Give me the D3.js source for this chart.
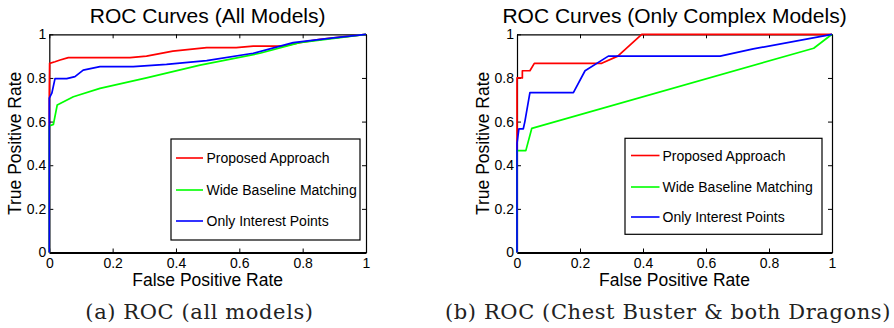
<!DOCTYPE html>
<html>
<head>
<meta charset="utf-8">
<script src="https://cdn.jsdelivr.net/npm/d3@7"></script>
<style>
  html, body { margin: 0; padding: 0; background: #fff; }
  svg { display: block; }
</style>
</head>
<body>
<svg id="chart" width="894" height="328"></svg>
<script>
// ---------- data ----------
const tickValues = [0, 0.2, 0.4, 0.6, 0.8, 1];
const tickLabels = ["0", "0.2", "0.4", "0.6", "0.8", "1"];
const seriesNames = ["Proposed Approach", "Wide Baseline Matching", "Only Interest Points"];
const seriesColors = ["#ff0000", "#00ff00", "#0000ff"];
const panelTitles = ["ROC Curves (All Models)", "ROC Curves (Only Complex Models)"];
const panelCaptions = ["(a) ROC (all models)", "(b) ROC (Chest Buster & both Dragons)"];
const xLabel = "False Positive Rate";
const yLabel = "True Positive Rate";

// Panel (a): all models
const allProposedFPR = [0, 0, 0.001, 0.018, 0.034, 0.06, 0.255, 0.307, 0.39, 0.497, 0.59, 0.644, 0.739, 0.79, 0.855, 1];
const allProposedTPR = [0, 0.73, 0.867, 0.874, 0.882, 0.893, 0.893, 0.90, 0.923, 0.939, 0.939, 0.946, 0.946, 0.962, 0.977, 1];
const allWideFPR = [0, 0, 0.013, 0.025, 0.076, 0.16, 0.307, 0.476, 0.665, 0.79, 1];
const allWideTPR = [0, 0.58, 0.587, 0.676, 0.714, 0.752, 0.80, 0.859, 0.913, 0.962, 1];
const allInterestFPR = [0, 0, 0.008, 0.018, 0.055, 0.081, 0.107, 0.16, 0.265, 0.37, 0.497, 0.644, 0.77, 0.897, 1];
const allInterestTPR = [0, 0.707, 0.73, 0.797, 0.797, 0.806, 0.836, 0.852, 0.852, 0.862, 0.879, 0.913, 0.962, 0.984, 1];

// Panel (b): only complex models
const cxProposedFPR = [0, 0, 0.017, 0.017, 0.041, 0.055, 0.269, 0.32, 0.396, 1];
const cxProposedTPR = [0, 0.8, 0.8, 0.833, 0.833, 0.867, 0.867, 0.9, 1, 1];
const cxWideFPR = [0, 0, 0.028, 0.047, 0.942, 1];
const cxWideTPR = [0, 0.467, 0.467, 0.569, 0.936, 1];
const cxInterestFPR = [0, 0, 0.006, 0.02, 0.025, 0.041, 0.179, 0.216, 0.29, 0.645, 0.75, 1];
const cxInterestTPR = [0, 0.5, 0.567, 0.567, 0.6, 0.733, 0.733, 0.833, 0.9, 0.9, 0.933, 1];

// ---------- layout ----------
const panels = [
  {
    x0: 49.3, x1: 366, y0: 252.5, y1: 34.3,
    title: panelTitles[0], caption: panelCaptions[0], captionX: 199.5,
    yLabelX: 21,
    series: [[allProposedFPR, allProposedTPR], [allWideFPR, allWideTPR], [allInterestFPR, allInterestTPR]],
    legend: { x: 171, y: 139, w: 189, h: 101, rows: [158, 190, 221], lx0: 176, lx1: 203, tx: 206.5 }
  },
  {
    x0: 517, x1: 832, y0: 252.5, y1: 34.3,
    title: panelTitles[1], caption: panelCaptions[1], captionX: 668,
    yLabelX: 489,
    series: [[cxProposedFPR, cxProposedTPR], [cxWideFPR, cxWideTPR], [cxInterestFPR, cxInterestTPR]],
    legend: { x: 625, y: 138.3, w: 197, h: 96, rows: [155.5, 187, 217], lx0: 631, lx1: 659.5, tx: 662.5 }
  }
];

const svg = d3.select("#chart");
const sans = "'Liberation Sans', Arial, Helvetica, sans-serif";
const serif = "'DejaVu Serif', 'Liberation Serif', serif";

panels.forEach(p => {
  const x = d3.scaleLinear().domain([0, 1]).range([p.x0, p.x1]);
  const y = d3.scaleLinear().domain([0, 1]).range([p.y0, p.y1]);
  const g = svg.append("g");
  const fmt = (d, i) => tickLabels[i];

  // Axes (ticks inside, MATLAB box)
  const bottom = g.append("g").attr("transform", `translate(0,${p.y0})`)
    .call(d3.axisBottom(x).tickValues(tickValues).tickFormat(fmt).tickSizeInner(-4).tickSizeOuter(0).tickPadding(6));
  const left = g.append("g").attr("transform", `translate(${p.x0},0)`)
    .call(d3.axisLeft(y).tickValues(tickValues).tickFormat(fmt).tickSizeInner(-4).tickSizeOuter(0).tickPadding(3));
  const top = g.append("g").attr("transform", `translate(0,${p.y1})`)
    .call(d3.axisTop(x).tickValues(tickValues).tickFormat("").tickSizeInner(-4).tickSizeOuter(0));
  const right = g.append("g").attr("transform", `translate(${p.x1},0)`)
    .call(d3.axisRight(y).tickValues(tickValues).tickFormat("").tickSizeInner(-4).tickSizeOuter(0));

  [bottom, left, top, right].forEach(a => {
    a.selectAll("path.domain").attr("stroke", "#000").attr("stroke-width", 1.2);
    a.selectAll(".tick line").attr("stroke", "#000").attr("stroke-width", 1);
    a.selectAll(".tick text").attr("fill", "#000").style("font-family", sans).style("font-size", "14px");
  });
  bottom.selectAll("path.domain").attr("stroke-width", 1.8);

  // Curves
  const line = d3.line().x(d => x(d[0])).y(d => y(d[1]));
  p.series.forEach((s, i) => {
    const pts = s[0].map((v, k) => [v, s[1][k]]);
    g.append("path").datum(pts).attr("d", line)
      .attr("fill", "none").attr("stroke", seriesColors[i])
      .attr("stroke-width", 1.7).attr("stroke-linejoin", "round");
  });

  // Legend
  const L = p.legend;
  g.append("rect").attr("x", L.x).attr("y", L.y).attr("width", L.w).attr("height", L.h)
    .attr("fill", "#fff").attr("stroke", "#000").attr("stroke-width", 1.2);
  seriesNames.forEach((name, i) => {
    g.append("line").attr("x1", L.lx0).attr("x2", L.lx1).attr("y1", L.rows[i]).attr("y2", L.rows[i])
      .attr("stroke", seriesColors[i]).attr("stroke-width", 1.6);
    g.append("text").attr("x", L.tx).attr("y", L.rows[i]).attr("dy", "0.36em")
      .style("font-family", sans).style("font-size", "14px").attr("fill", "#000").text(name);
  });

  // Title
  g.append("text").attr("x", (p.x0 + p.x1) / 2).attr("y", 22.7).attr("text-anchor", "middle")
    .style("font-family", sans).style("font-size", "21px").attr("fill", "#000").text(p.title);
  // X label
  g.append("text").attr("x", (p.x0 + p.x1) / 2).attr("y", 286).attr("text-anchor", "middle")
    .style("font-family", sans).style("font-size", "17.5px").attr("fill", "#000").text(xLabel);
  // Y label
  g.append("text").attr("transform", `translate(${p.yLabelX},${(p.y0 + p.y1) / 2}) rotate(-90)`)
    .attr("text-anchor", "middle")
    .style("font-family", sans).style("font-size", "17.5px").attr("fill", "#000").text(yLabel);
  // Caption
  g.append("text").attr("x", p.captionX).attr("y", 319.3).attr("text-anchor", "middle")
    .style("font-family", serif).style("font-size", "21px").style("letter-spacing", "0.6px")
    .style("font-weight", "300").attr("fill", "#222").text(p.caption);
});
</script>
</body>
</html>
